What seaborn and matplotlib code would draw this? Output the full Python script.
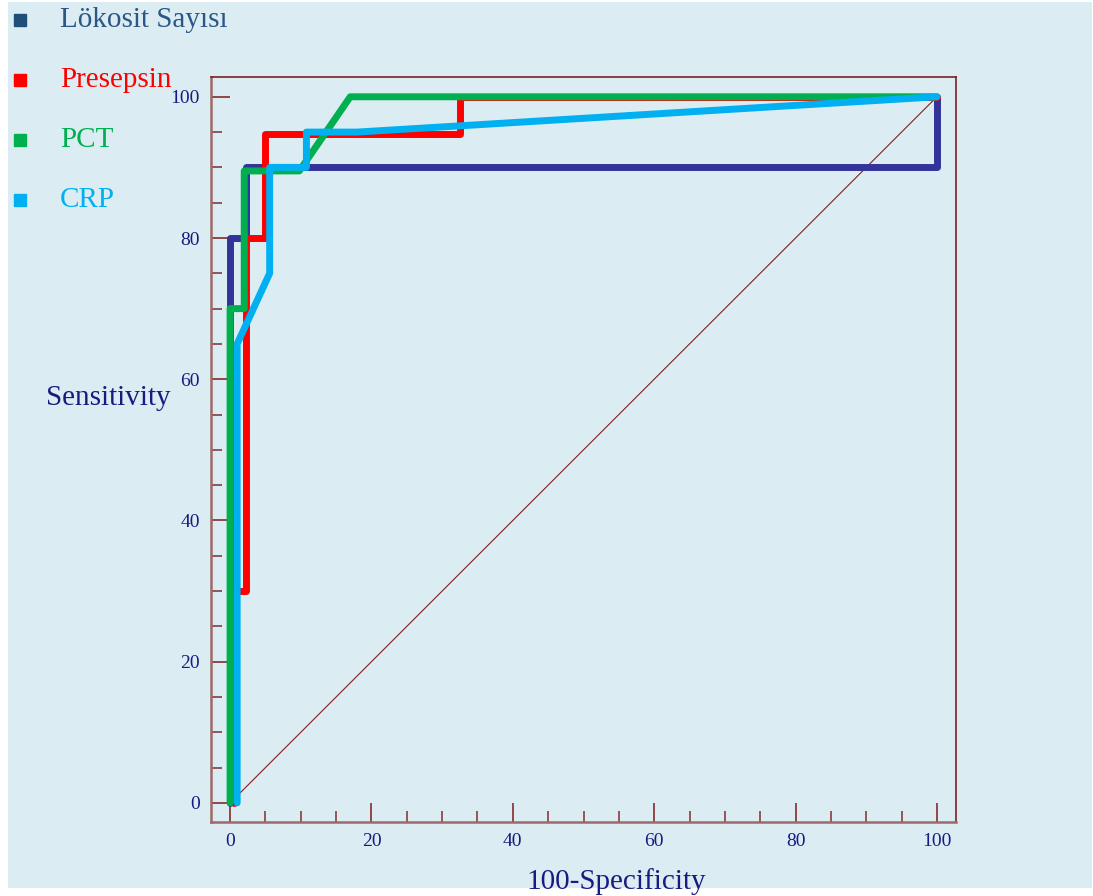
import matplotlib
matplotlib.use("Agg")
import matplotlib.pyplot as plt
from matplotlib.lines import Line2D
from matplotlib.patches import Rectangle
import seaborn as sns
import pandas as pd

# ROC curve vertices (100-Specificity, Sensitivity) for each marker
lokosit_x = [0, 0, 2.2, 2.2, 100, 100]
lokosit_y = [0, 80, 80, 90, 90, 100]

presepsin_x = [0.5, 0.5, 2.2, 2.2, 5, 5, 32.5, 32.5, 100]
presepsin_y = [0, 30, 30, 80, 80, 94.7, 94.7, 100, 100]

pct_x = [0, 0, 2, 2, 9.8, 17, 100]
pct_y = [0, 70, 70, 89.5, 89.5, 100, 100]

crp_x = [1, 1, 5.6, 5.6, 10.8, 10.8, 18, 100]
crp_y = [0, 65, 75, 90, 90, 95, 95, 100]

series_names = ["Lökosit Sayısı", "Presepsin", "PCT", "CRP"]
line_colors = ["#333399", "#ff0000", "#00b050", "#00b0f0"]
legend_marker_colors = ["#1f4e79", "#ff0000", "#00b050", "#00b0f0"]
legend_text_colors = ["#2a5787", "#ff0000", "#00b050", "#00b0f0"]

x_ticks = [0, 20, 40, 60, 80, 100]
y_ticks = [0, 20, 40, 60, 80, 100]

frames = []
for name, xs, ys in zip(series_names,
                        [lokosit_x, presepsin_x, pct_x, crp_x],
                        [lokosit_y, presepsin_y, pct_y, crp_y]):
    frames.append(pd.DataFrame({"fpr": xs, "tpr": ys, "marker": name}))
df = pd.concat(frames, ignore_index=True)

bg = "#dbedf3"
spine_col = "#a06868"
tick_col = "#8b3a3a"
navy = "#1a1a80"

sns.set_theme(style="white")
plt.rcParams["font.family"] = ["Liberation Serif", "DejaVu Serif"]

fig = plt.figure(figsize=(10.93, 8.96), dpi=100, facecolor="white")
fig.add_artist(Rectangle((8 / 1093, 8 / 896), 1 - 9 / 1093, 1 - 10 / 896,
                         transform=fig.transFigure, facecolor=bg,
                         edgecolor="none", zorder=-10))
ax = fig.add_axes([211 / 1093, 74 / 896, 745 / 1093, 745 / 896])
ax.set_facecolor(bg)

# chance line
ax.plot([0, 100], [0, 100], color="#8b1a1a", lw=0.8, zorder=1)

sns.lineplot(data=df, x="fpr", y="tpr", hue="marker", hue_order=series_names,
             palette=line_colors, sort=False, estimator=None, units="marker",
             linewidth=5, legend=False, ax=ax, zorder=2,
             solid_joinstyle="round")

ax.set_xlim(-2.7, 102.7)
ax.set_ylim(-2.7, 102.8)
ax.set_xticks(x_ticks)
ax.set_yticks(y_ticks)
ax.set_xticks([v for v in range(0, 101, 5) if v % 20], minor=True)
ax.set_yticks([v for v in range(0, 101, 5) if v % 20], minor=True)
ax.tick_params(which="major", direction="in", length=14, width=1.3,
               color=tick_col, labelcolor=navy, labelsize=14, pad=8)
ax.tick_params(which="minor", direction="in", length=8, width=1.2,
               color=tick_col)
ax.tick_params(axis="both", which="both", bottom=True, left=True)

for side, sp in ax.spines.items():
    sp.set_color(spine_col if side in ("left", "bottom") else "#7a2020")
    sp.set_linewidth(1.8 if side in ("left", "bottom") else 1.2)

ax.set_xlabel("100-Specificity", fontsize=21, color=navy, va="center")
ax.set_ylabel("Sensitivity", fontsize=21, color=navy, rotation=0,
              ha="center", va="center")
ax.xaxis.set_label_coords(0.5436, -0.0805)
ax.yaxis.set_label_coords(-0.1376, 0.569)

# legend: colored squares with labels stacked at top left
for i, (name, mc, tc) in enumerate(zip(series_names, legend_marker_colors,
                                       legend_text_colors)):
    yc = 1 - (20 + 60 * i) / 896
    fig.add_artist(Line2D([20 / 1093], [yc], marker="s", markersize=9,
                          color=mc, linestyle="none",
                          transform=fig.transFigure))
    fig.text(60 / 1093, yc, name, color=tc, fontsize=21, va="center",
             ha="left")

fig.savefig("out.png", dpi=100, facecolor="white")
